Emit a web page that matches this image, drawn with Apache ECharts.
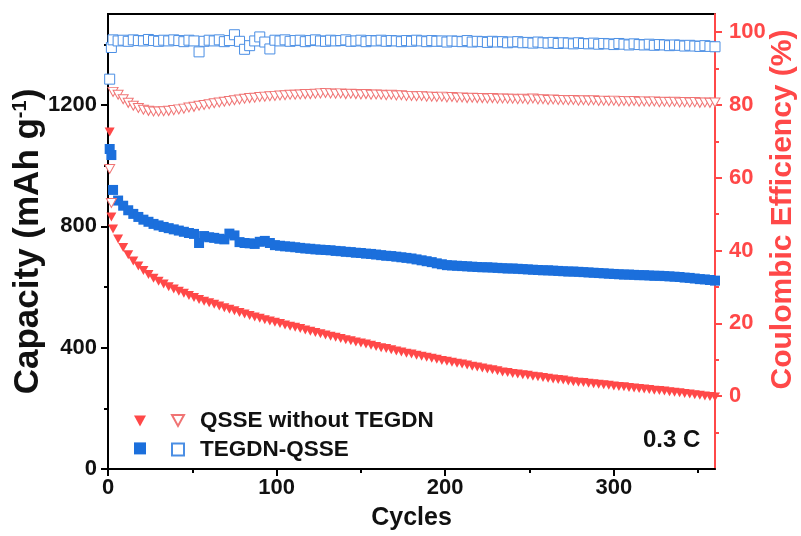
<!DOCTYPE html>
<html>
<head>
<meta charset="utf-8">
<script src="https://cdn.jsdelivr.net/npm/echarts@6/dist/echarts.min.js"></script>
<style>
  html, body { margin: 0; padding: 0; background: #fff; overflow: hidden; }
  #chart { width: 801px; height: 536px; }
</style>
</head>
<body>
<div id="chart"></div>
<script>
// Cycle numbers at which the cell was sampled
const cycles = [1, 2, 3, 6, 9, 12, 15, 18, 21, 24, 27, 30, 33, 36, 39, 42, 45, 48, 51, 54, 57, 60,
  63, 66, 69, 72, 75, 78, 81, 84, 87, 90, 93, 96, 99, 102, 105, 108, 111, 114, 117, 120,
  123, 126, 129, 132, 135, 138, 141, 144, 147, 150, 153, 156, 159, 162, 165, 168, 171, 174, 177, 180,
  183, 186, 189, 192, 195, 198, 201, 204, 207, 210, 213, 216, 219, 222, 225, 228, 231, 234, 237, 240,
  243, 246, 249, 252, 255, 258, 261, 264, 267, 270, 273, 276, 279, 282, 285, 288, 291, 294, 297, 300,
  303, 306, 309, 312, 315, 318, 321, 324, 327, 330, 333, 336, 339, 342, 345, 348, 351, 354, 357, 360];

// Discharge capacity, QSSE without TEGDN (mAh g-1)
const capNoTegdn = [1111, 831, 791, 758, 730, 706, 686, 669, 654, 641, 629, 619, 610, 601, 593, 586, 579, 572, 565, 559, 553, 548,
  543, 537, 532, 527, 522, 516, 511, 506, 501, 497, 492, 488, 484, 480, 475, 471, 467, 463, 458, 454,
  450, 446, 442, 438, 434, 430, 426, 423, 419, 415, 412, 408, 404, 400, 397, 393, 389, 386, 382, 379,
  375, 372, 368, 365, 362, 358, 355, 352, 349, 346, 343, 339, 336, 333, 330, 327, 324, 320, 318, 315,
  313, 311, 309, 306, 304, 302, 299, 297, 295, 293, 290, 288, 286, 285, 283, 281, 279, 278, 276, 274,
  272, 271, 269, 267, 265, 264, 262, 260, 259, 257, 255, 253, 251, 249, 247, 245, 243, 241, 239, 237];

// Discharge capacity, TEGDN-QSSE (mAh g-1)
const capTegdn = [1055, 1035, 920, 885, 868, 853, 841, 831, 822, 815, 808, 803, 798, 794, 790, 786, 782, 778, 775, 745, 768, 764,
  762, 759, 757, 776, 770, 748, 745, 744, 742, 749, 752, 745, 738, 736, 734, 733, 731, 729, 727, 726,
  724, 723, 722, 721, 719, 718, 716, 715, 713, 712, 710, 709, 707, 705, 703, 702, 700, 698, 696, 694,
  691, 688, 685, 682, 678, 675, 672, 671, 670, 669, 668, 667, 666, 665, 665, 664, 663, 662, 661, 661,
  660, 659, 658, 657, 656, 655, 655, 654, 653, 652, 651, 651, 650, 649, 648, 647, 646, 645, 644, 643,
  642, 641, 641, 640, 639, 639, 638, 637, 637, 636, 635, 634, 633, 631, 630, 628, 626, 625, 623, 621];

// Coulombic efficiency, QSSE without TEGDN (%)
const ceNoTegdn = [62.4, 53.1, 83.6, 82.8, 81.6, 80.6, 79.8, 79.2, 78.7, 78.4, 78.2, 78.2, 78.3, 78.4, 78.6, 78.8, 79.0, 79.3, 79.5, 79.8, 80.0, 80.2,
  80.5, 80.7, 80.9, 81.1, 81.3, 81.5, 81.7, 81.9, 82.0, 82.2, 82.3, 82.4, 82.5, 82.6, 82.7, 82.8, 82.8, 82.9, 83.0, 83.0,
  83.1, 83.2, 83.3, 83.2, 83.1, 83.2, 83.0, 83.1, 83.0, 82.9, 83.0, 82.8, 82.9, 82.8, 82.7, 82.8, 82.6, 82.7, 82.5, 82.5,
  82.4, 82.5, 82.3, 82.3, 82.2, 82.3, 82.1, 82.2, 82.0, 82.1, 81.9, 82.0, 81.9, 81.9, 81.8, 81.9, 81.7, 81.8, 81.7, 81.7,
  81.6, 81.7, 81.5, 81.8, 81.5, 81.6, 81.4, 81.5, 81.4, 81.4, 81.3, 81.4, 81.2, 81.3, 81.2, 81.3, 81.1, 81.2, 81.1, 81.2,
  81.0, 81.1, 81.0, 81.1, 80.9, 81.0, 80.9, 81.0, 80.8, 80.9, 80.8, 80.9, 80.7, 80.8, 80.7, 80.8, 80.6, 80.7, 80.6, 80.7];

// Coulombic efficiency, TEGDN-QSSE (%)
const ceTegdn = [87.1, 95.8, 97.9, 97.6, 97.8, 97.5, 97.9, 97.7, 97.6, 98.0, 97.7, 97.5, 97.8, 97.6, 97.9, 97.7, 97.4, 97.8, 97.6, 94.6, 97.5, 97.8,
  97.6, 97.9, 97.4, 97.7, 99.3, 97.5, 95.3, 96.3, 97.6, 98.7, 97.3, 95.4, 97.8, 97.6, 97.9, 97.5, 97.7, 97.8, 97.4, 97.7,
  97.9, 97.6, 97.5, 97.8, 97.6, 97.7, 97.9, 97.5, 97.6, 97.8, 97.4, 97.7, 97.6, 97.8, 97.5, 97.7, 97.6, 97.4, 97.7, 97.5,
  97.8, 97.6, 97.4, 97.7, 97.5, 97.6, 97.3, 97.6, 97.5, 97.4, 97.7, 97.3, 97.5, 97.4, 97.2, 97.5, 97.3, 97.4, 97.1, 97.3,
  97.4, 97.1, 97.2, 97.0, 97.3, 97.1, 97.0, 97.2, 96.9, 97.1, 97.0, 96.8, 97.1, 96.9, 96.8, 97.0, 96.7, 96.9, 96.8, 96.6,
  96.9, 96.7, 96.5, 96.8, 96.6, 96.5, 96.7, 96.4, 96.6, 96.5, 96.3, 96.5, 96.4, 96.2, 96.4, 96.2, 96.1, 96.3, 96.1, 96.0];

// Axis ticks and labels
const xTicks = [0, 100, 200, 300];
const xMinor = [50, 150, 250, 350];
const capTicks = [0, 400, 800, 1200];
const capMinor = [200, 600, 1000, 1400];
const ceTicks = [0, 20, 40, 60, 80, 100];
const ceMinor = [-10, 10, 30, 50, 70, 90];

const FONT = '"Liberation Sans", Arial, sans-serif';
const RED = '#ff4848';
const BLUE = '#1b6fdc';
const RED_OPEN = '#f07474';
const BLUE_OPEN = '#4a8ee4';
const INK = '#111';
const triDown = 'path://M0,0L10,0L5,9Z';

const pairs = ys => cycles.map((c, i) => [c, ys[i]]);

const chart = echarts.init(document.getElementById('chart'));

const plotRect = { left: 108, right: 86, top: 14, bottom: 67, outerBoundsMode: 'none', containLabel: false };
const labelStyle = color => ({ color: color, fontFamily: FONT, fontWeight: 'bold', fontSize: 22, formatter: v => String(v) });

// Second, invisible grid on the same rectangle carries the short minor ticks
const minorAxis = (ticks, color, extra) => Object.assign({
  type: 'value', gridIndex: 1,
  axisLine: { show: false, onZero: false },
  axisTick: { customValues: ticks, length: 4, lineStyle: { color: color, width: 2 } },
  axisLabel: { show: false },
  splitLine: { show: false }
}, extra);

chart.setOption({
  animation: false,
  backgroundColor: '#fff',
  grid: [
    Object.assign({ show: true, borderColor: '#000', borderWidth: 2, backgroundColor: 'transparent' }, plotRect),
    Object.assign({ show: false }, plotRect)
  ],
  xAxis: [
    {
      type: 'value', gridIndex: 0, min: 0, max: 360, position: 'bottom',
      axisLine: { onZero: false, lineStyle: { color: '#000', width: 2 } },
      axisTick: { customValues: xTicks, length: 7, lineStyle: { color: '#000', width: 2 } },
      axisLabel: Object.assign({ customValues: xTicks, margin: 8 }, labelStyle(INK)),
      splitLine: { show: false },
      name: 'Cycles', nameLocation: 'middle', nameGap: 37, nameMoveOverlap: false,
      nameTextStyle: { color: INK, fontFamily: FONT, fontWeight: 'bold', fontSize: 25 }
    },
    minorAxis(xMinor, '#000', { min: 0, max: 360, position: 'bottom' })
  ],
  yAxis: [
    {
      type: 'value', gridIndex: 0, min: 0, max: 1500, position: 'left',
      axisLine: { show: true, onZero: false, lineStyle: { color: '#000', width: 2 } },
      axisTick: { customValues: capTicks, length: 7, lineStyle: { color: '#000', width: 2 } },
      axisLabel: Object.assign({ customValues: capTicks, margin: 11 }, labelStyle(INK)),
      splitLine: { show: false },
      name: 'Capacity (mAh g{sup|-1})', nameLocation: 'middle', nameGap: 62, nameRotate: 90, nameMoveOverlap: false,
      nameTextStyle: {
        color: INK, fontFamily: FONT, fontWeight: 'bold', fontSize: 35,
        rich: { sup: { fontFamily: FONT, fontWeight: 'bold', fontSize: 20, verticalAlign: 'top', color: INK, padding: [0, 0, 16, 0] } }
      }
    },
    {
      type: 'value', gridIndex: 0, min: -20, max: 105, position: 'right',
      axisLine: { show: true, onZero: false, lineStyle: { color: RED, width: 2 } },
      axisTick: { customValues: ceTicks, length: 7, lineStyle: { color: RED, width: 2 } },
      axisLabel: Object.assign({ customValues: ceTicks, margin: 14 }, labelStyle(RED)),
      splitLine: { show: false },
      name: 'Coulombic Efficiency (%)', nameLocation: 'middle', nameGap: 53, nameRotate: 90, nameMoveOverlap: false,
      nameTextStyle: { color: RED, fontFamily: FONT, fontWeight: 'bold', fontSize: 30, padding: [0, 0, 0, 64] }
    },
    minorAxis(capMinor, '#000', { min: 0, max: 1500, position: 'left' }),
    minorAxis(ceMinor, RED, { min: -20, max: 105, position: 'right' })
  ],
  legend: [
    {
      left: 129, top: 410, orient: 'vertical',
      itemWidth: 12, itemHeight: 12, itemGap: 16,
      data: ['QSSE without TEGDN capacity', 'TEGDN-QSSE capacity'],
      formatter: () => '',
      selectedMode: false
    },
    {
      left: 166, top: 404, orient: 'vertical',
      itemWidth: 12, itemHeight: 12, itemGap: 6,
      data: ['QSSE without TEGDN CE', 'TEGDN-QSSE CE'],
      formatter: name => name.replace(' CE', ''),
      textStyle: { color: INK, fontFamily: FONT, fontWeight: 'bold', fontSize: 22.5, padding: [0, 0, 0, 11] },
      selectedMode: false
    }
  ],
  graphic: [
    {
      type: 'text', left: 643, top: 428,
      style: { text: '0.3 C', fill: INK, font: 'bold 24px ' + FONT }
    }
  ],
  series: [
    {
      name: 'QSSE without TEGDN capacity', type: 'scatter', xAxisIndex: 0, yAxisIndex: 0,
      symbol: triDown, symbolSize: [10, 9],
      itemStyle: { color: RED, opacity: 1 },
      data: pairs(capNoTegdn)
    },
    {
      name: 'TEGDN-QSSE capacity', type: 'scatter', xAxisIndex: 0, yAxisIndex: 0,
      symbol: 'rect', symbolSize: 10,
      itemStyle: { color: BLUE, opacity: 1 },
      data: pairs(capTegdn)
    },
    {
      name: 'QSSE without TEGDN CE', type: 'scatter', xAxisIndex: 0, yAxisIndex: 1,
      symbol: triDown, symbolSize: [10, 9],
      itemStyle: { color: '#fff', borderColor: RED_OPEN, borderWidth: 1, opacity: 1 },
      data: pairs(ceNoTegdn)
    },
    {
      name: 'TEGDN-QSSE CE', type: 'scatter', xAxisIndex: 0, yAxisIndex: 1,
      symbol: 'rect', symbolSize: 10,
      itemStyle: { color: '#fff', borderColor: BLUE_OPEN, borderWidth: 1, opacity: 1 },
      data: pairs(ceTegdn)
    }
  ]
});
</script>
</body>
</html>
